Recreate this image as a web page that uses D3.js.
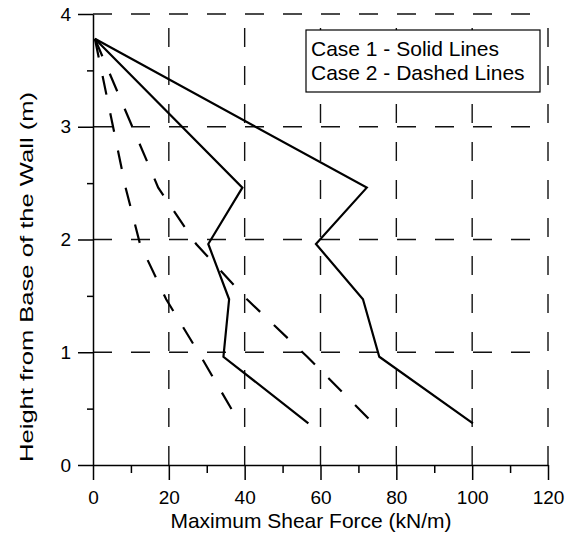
<!DOCTYPE html>
<html>
<head>
<meta charset="utf-8">
<script src="https://cdn.jsdelivr.net/npm/d3@7"></script>
<style>
  body { margin: 0; background: #fff; }
  text { font-family: "Liberation Sans", Arial, Helvetica, sans-serif; fill: #000; }
</style>
</head>
<body>
<div id="chart"></div>
<script>
// heights where the shear force was read (m)
const heights = [3.78, 2.46, 1.96, 1.47, 0.96, 0.37];

// case 1 (solid) and case 2 (dashed), kN/m
const case1Inner = [0.5, 39.4, 30.4, 35.9, 34.4, 56.8];
const case1Outer = [0.5, 72.2, 58.8, 71.2, 75.5, 100.2];
const case2Inner = [0.5, 8.6, 12.4, 19.3, 28.5, 38.7];
const case2Outer = [0.5, 17.2, 27.2, 40.6, 56.5, 73.9];

const xTicks = [0, 20, 40, 60, 80, 100, 120];
const xMinor = [10, 30, 50, 70, 90, 110];
const yTicks = [0, 1, 2, 3, 4];
const yMinor = [0.5, 1.5, 2.5, 3.5];

const legendLines = ["Case 1 - Solid Lines", "Case 2 - Dashed Lines"];

const W = 581, H = 535;
const svg = d3.select("#chart").append("svg")
    .attr("width", W)
    .attr("height", H);

const x = d3.scaleLinear().domain([0, 120]).range([93, 548]);
const y = d3.scaleLinear().domain([0, 4]).range([465, 14]);

// dashed grid
const grid = svg.append("g")
    .attr("stroke", "#111")
    .attr("stroke-width", 1.4)
    .attr("stroke-dasharray", "19,19");

grid.selectAll(".vg")
    .data(xTicks.filter(d => d > 0))
    .enter().append("line")
    .attr("x1", d => x(d)).attr("x2", d => x(d))
    .attr("y1", y(0)).attr("y2", y(4));

grid.selectAll(".hg")
    .data(yTicks.filter(d => d > 0))
    .enter().append("line")
    .attr("x1", x(0)).attr("x2", x(120))
    .attr("y1", d => y(d)).attr("y2", d => y(d));

// axes
svg.append("g")
    .attr("transform", "translate(0," + y(0) + ")")
    .call(d3.axisBottom(x).tickValues(xTicks).tickFormat(d3.format("d"))
        .tickSize(15).tickSizeOuter(0).tickPadding(11));
svg.append("g")
    .attr("transform", "translate(0," + y(0) + ")")
    .call(d3.axisBottom(x).tickValues(xMinor).tickSize(8).tickFormat("").tickSizeOuter(0))
    .select(".domain").remove();

svg.append("g")
    .attr("transform", "translate(" + x(0) + ",0)")
    .call(d3.axisLeft(y).tickValues(yTicks).tickFormat(d3.format("d"))
        .tickSize(15).tickSizeOuter(0).tickPadding(7));
svg.append("g")
    .attr("transform", "translate(" + x(0) + ",0)")
    .call(d3.axisLeft(y).tickValues(yMinor).tickSize(6).tickFormat("").tickSizeOuter(0))
    .select(".domain").remove();

svg.selectAll(".domain, .tick line")
    .attr("stroke", "#000")
    .attr("stroke-width", 1.5);
svg.selectAll(".tick text")
    .style("font-size", "19px")
    .style("font-family", "'Liberation Sans', Arial, sans-serif")
    .attr("fill", "#000");

// data lines
const line = d3.line()
    .x(d => x(d[0]))
    .y(d => y(d[1]));

const series = [
  { vals: case1Inner, dash: null },
  { vals: case1Outer, dash: null },
  { vals: case2Inner, dash: "19,19" },
  { vals: case2Outer, dash: "19,19" }
];

svg.selectAll(".series")
    .data(series)
    .enter().append("path")
    .attr("fill", "none")
    .attr("stroke", "#000")
    .attr("stroke-width", 2.2)
    .attr("stroke-linejoin", "miter")
    .attr("stroke-dasharray", d => d.dash)
    .attr("d", d => line(d.vals.map((v, i) => [v, heights[i]])));

// legend
const lg = svg.append("g");
lg.append("rect")
    .attr("x", 306).attr("y", 30)
    .attr("width", 234).attr("height", 62)
    .attr("fill", "#fff")
    .attr("stroke", "#000")
    .attr("stroke-width", 1.2);
lg.selectAll("text")
    .data(legendLines)
    .enter().append("text")
    .attr("x", 311)
    .attr("y", (d, i) => 56 + i * 24)
    .style("font-size", "21px")
    .text(d => d);

// axis titles
svg.append("text")
    .attr("x", 311)
    .attr("y", 528)
    .attr("text-anchor", "middle")
    .style("font-size", "21px")
    .text("Maximum Shear Force (kN/m)");

svg.append("text")
    .attr("transform", "translate(33,277) rotate(-90)")
    .attr("text-anchor", "middle")
    .attr("textLength", 370)
    .attr("lengthAdjust", "spacingAndGlyphs")
    .style("font-size", "19px")
    .text("Height from Base of the Wall (m)");
</script>
</body>
</html>
